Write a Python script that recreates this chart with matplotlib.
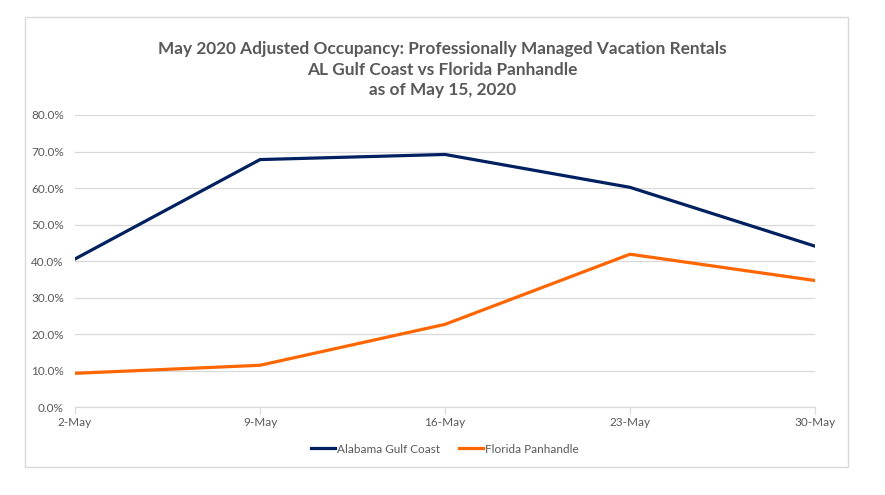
import matplotlib
matplotlib.use('Agg')
from matplotlib import pyplot as plt
from matplotlib.patches import Rectangle
from matplotlib.ticker import FuncFormatter
import numpy as np

dates = ['2-May', '9-May', '16-May', '23-May', '30-May']
al_gulf = [40.6, 67.8, 69.2, 60.2, 44.1]
fl_panhandle = [9.3, 11.5, 22.7, 41.9, 34.7]
labels = ['Alabama Gulf Coast', 'Florida Panhandle']
title = ('May 2020 Adjusted Occupancy: Professionally Managed Vacation Rentals\n'
         'AL Gulf Coast vs Florida Panhandle\n'
         'as of May 15, 2020')


def main():
    plt.rcParams['font.family'] = ['Lato', 'DejaVu Sans']
    grey = '#595959'

    fig = plt.figure(figsize=(8.85, 4.95), dpi=100)
    fig.patches.append(Rectangle((25 / 885, 1 - 467 / 495), 823 / 885, 450 / 495,
                                 transform=fig.transFigure, fill=False,
                                 edgecolor='#d9d9d9', linewidth=1))

    ax = fig.add_axes([75 / 885, 1 - 407.3 / 495, 740 / 885, 292.3 / 495])
    x = np.arange(len(dates))
    ax.plot(x, al_gulf, color='#002060', linewidth=2.3, label=labels[0],
            solid_joinstyle='round')
    ax.plot(x, fl_panhandle, color='#ff6600', linewidth=2.3, label=labels[1],
            solid_joinstyle='round')

    ax.set_xlim(0, len(dates) - 1)
    ax.set_ylim(0, 80)
    ax.set_yticks(np.arange(0, 81, 10))
    ax.yaxis.set_major_formatter(FuncFormatter(lambda v, p: '{:.1f}%'.format(v)))
    ax.set_xticks(x)
    ax.set_xticklabels(dates)

    ax.grid(axis='y', color='#d9d9d9', linewidth=0.9)
    ax.set_axisbelow(True)
    for s in ['top', 'right', 'left']:
        ax.spines[s].set_visible(False)
    ax.spines['bottom'].set_color('#d9d9d9')
    ax.spines['bottom'].set_linewidth(0.9)
    ax.tick_params(axis='y', length=0, pad=8, labelsize=8.5, labelcolor=grey)
    ax.tick_params(axis='x', length=5, color='#d9d9d9', pad=2, labelsize=8.5,
                   labelcolor=grey)

    fig.text(0.5, 1 - 41 / 495, title, ha='center', va='top', fontsize=12.4,
             fontweight='bold', color=grey, linespacing=1.36)

    ax.legend(loc='center', bbox_to_anchor=(0.5, -0.143), ncol=2, frameon=False,
              fontsize=8.5, labelcolor=grey, handlelength=2.0, handletextpad=0.2,
              columnspacing=1.6)

    fig.savefig('out.png', dpi=100)


if __name__ == '__main__':
    main()
